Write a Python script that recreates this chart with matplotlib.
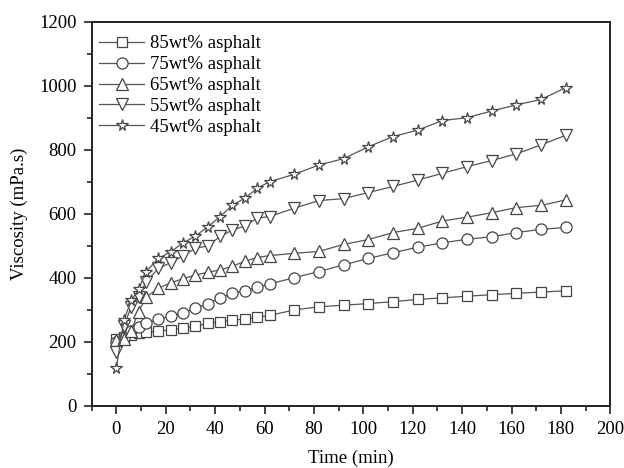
import numpy as np
import matplotlib.pyplot as plt
from matplotlib.ticker import MultipleLocator

plt.rcParams['font.family'] = ['Liberation Serif', 'DejaVu Serif']

time_min = [0, 3, 6, 9, 12, 17, 22, 27, 32, 37, 42, 47, 52, 57, 62,
            72, 82, 92, 102, 112, 122, 132, 142, 152, 162, 172, 182]

visc_85 = [210, 215, 222, 228, 231, 234, 238, 243, 250, 258, 264, 268, 272, 277, 283,
           300, 310, 315, 320, 326, 333, 338, 343, 348, 352, 356, 360]
visc_75 = [200, 212, 235, 248, 259, 271, 281, 292, 305, 320, 338, 352, 360, 371, 381,
           401, 420, 441, 461, 479, 496, 510, 521, 529, 542, 552, 558]
visc_65 = [205, 208, 235, 295, 340, 368, 385, 398, 409, 418, 425, 437, 452, 464, 470,
           477, 483, 505, 520, 542, 555, 578, 590, 604, 620, 627, 644]
visc_55 = [170, 250, 310, 342, 388, 430, 448, 469, 493, 500, 530, 550, 562, 587, 592,
           618, 642, 648, 667, 686, 706, 727, 748, 767, 788, 816, 846]
visc_45 = [120, 268, 330, 365, 420, 461, 482, 510, 531, 560, 592, 628, 649, 680, 701,
           724, 753, 773, 810, 842, 862, 892, 901, 922, 941, 958, 995]

labels = ['85wt% asphalt', '75wt% asphalt', '65wt% asphalt', '55wt% asphalt', '45wt% asphalt']
markers = ['s', 'o', '^', 'v', '*']
sizes = [7, 8, 9, 9, 8.5]

fig = plt.figure(figsize=(6.24, 4.68), dpi=100)
ax = fig.add_axes([0.147, 0.1325, 0.831, 0.8205])

series = [visc_85, visc_75, visc_65, visc_55, visc_45]
for vals, lab, m, ms in zip(series, labels, markers, sizes):
    ax.plot(time_min, vals, color='#555555', linewidth=0.9, marker=m, markersize=ms,
            markerfacecolor='white', markeredgecolor='#444444', markeredgewidth=0.9,
            label=lab)

ax.set_xlim(-10, 200)
ax.set_ylim(0, 1200)
ax.xaxis.set_major_locator(MultipleLocator(20))
ax.xaxis.set_minor_locator(MultipleLocator(10))
ax.yaxis.set_major_locator(MultipleLocator(200))
ax.yaxis.set_minor_locator(MultipleLocator(100))
ax.tick_params(which='major', direction='out', length=6, width=1.2, labelsize=13.5,
               color='#222222', pad=5)
ax.tick_params(which='minor', direction='out', length=3.5, width=1.2, color='#222222')
for s in ax.spines.values():
    s.set_linewidth(1.4)
    s.set_color('#222222')

ax.set_xlabel('Time (min)', fontsize=13.5, labelpad=8)
ax.set_ylabel('Viscosity (mPa.s)', fontsize=13.5, labelpad=8)

ax.legend(loc='upper left', bbox_to_anchor=(0.0, 0.985), frameon=False, fontsize=13.5,
          handlelength=2.4, handletextpad=0.3, labelspacing=0.2, borderaxespad=0.0)

fig.savefig('out.png', dpi=100)
